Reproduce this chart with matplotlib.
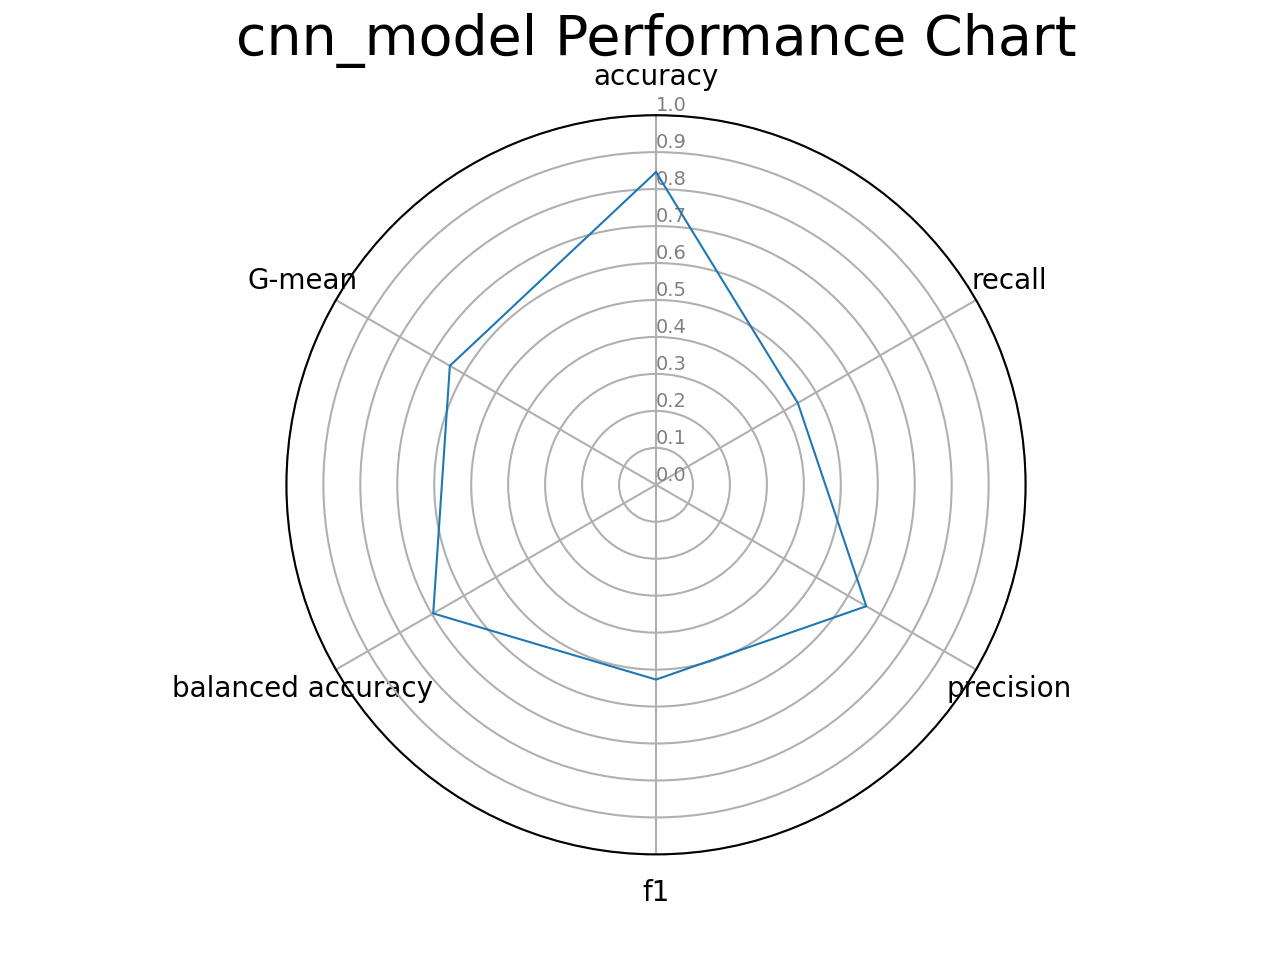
import numpy as np
import matplotlib
matplotlib.use("Agg")
import matplotlib.pyplot as plt

model_name = "cnn_model"
metrics = ["accuracy", "recall", "precision", "f1", "balanced accuracy", "G-mean"]
scores = [0.846, 0.443, 0.657, 0.527, 0.696, 0.644]
r_ticks = [0.0, 0.1, 0.2, 0.3, 0.4, 0.5, 0.6, 0.7, 0.8, 0.9, 1.0]

angles = np.linspace(0, 2 * np.pi, len(metrics), endpoint=False)
# close the polygon
theta = np.append(angles, angles[0])
vals = np.append(scores, scores[0])

fig = plt.figure(figsize=(12.8, 9.6), dpi=100)
ax = fig.add_subplot(111, polar=True)
ax.set_theta_offset(np.pi / 2)
ax.set_theta_direction(-1)

ax.plot(theta, vals, color="#1f77b4", linewidth=1.5)

ax.set_xticks(angles)
ax.set_xticklabels(metrics, fontsize=20)
ax.tick_params(axis="x", pad=17)
ax.set_ylim(0, 1)
ax.set_yticks(r_ticks)
ax.set_yticklabels([f"{t:.1f}" for t in r_ticks], color="grey", fontsize=14)
ax.set_rlabel_position(0)
ax.grid(True, color="#b0b0b0", linewidth=1.5)
ax.spines["polar"].set_linewidth(1.5)

ax.set_title(f"{model_name} Performance Chart", fontsize=40, y=1.081, pad=0)

fig.savefig("out.png", dpi=100)
